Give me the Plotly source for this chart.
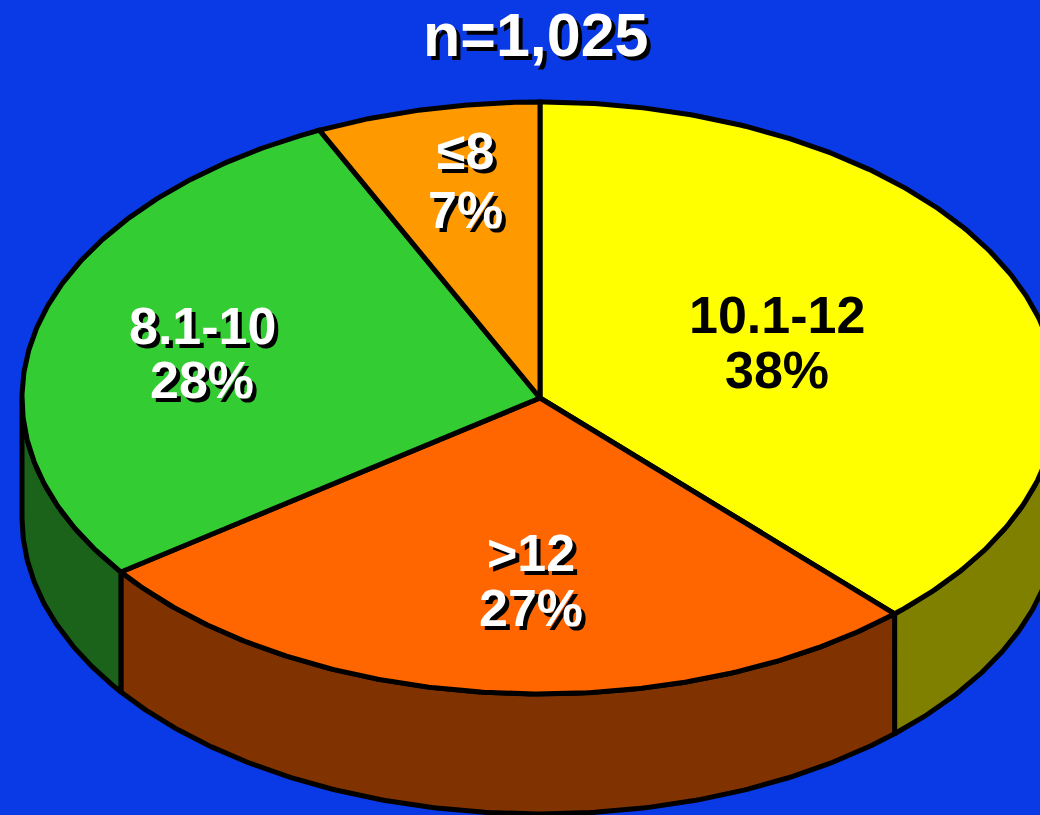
import numpy as np
import plotly.graph_objects as go

# ---- data ----
labels = ["10.1-12", ">12", "8.1-10", "\u22648"]
values = [38, 27, 28, 7]
title_text = "n=1,025"

# ---- style ----
top_colors = ["#FFFF00", "#FF6600", "#33CC33", "#FF9900"]
side_colors = ["#808000", "#803300", "#1B631B", "#804C00"]
text_colors = ["black", "white", "white", "white"]
use_shadow = [False, True, True, True]
label_xy = [(777, 315, 370), (531, 553, 608), (202, 326, 380), (465, 151, 210)]
BG = "#0A3AE6"
CX, CY, RX, RY, DEPTH = 540, 398, 518, 296, 120
W, H = 1040, 815
FONT = "Arial, Liberation Sans, sans-serif"
LW = 5

def ell(t):
    return CX + RX * np.sin(t), CY - RY * np.cos(t)

fig = go.Figure()
total = float(sum(values))
bounds = np.concatenate([[0], np.cumsum(values)]) / total * 2 * np.pi

# side faces (front half only: angles between pi/2 and 3pi/2)
for i in range(len(values)):
    a0, a1 = max(bounds[i], np.pi / 2), min(bounds[i + 1], 3 * np.pi / 2)
    if a1 <= a0:
        continue
    t = np.linspace(a0, a1, 200)
    x, y = ell(t)
    xs = np.concatenate([x, x[::-1], x[:1]])
    ys = np.concatenate([y, (y + DEPTH)[::-1], y[:1]])
    fig.add_trace(go.Scatter(x=xs, y=ys, mode="lines", fill="toself",
                             fillcolor=side_colors[i],
                             line=dict(color="black", width=LW),
                             hoverinfo="skip", showlegend=False))

# top faces
for i in range(len(values)):
    t = np.linspace(bounds[i], bounds[i + 1], 300)
    x, y = ell(t)
    xs = np.concatenate([[CX], x, [CX]])
    ys = np.concatenate([[CY], y, [CY]])
    fig.add_trace(go.Scatter(x=xs, y=ys, mode="lines", fill="toself",
                             fillcolor=top_colors[i],
                             line=dict(color="black", width=LW),
                             hoverinfo="skip", showlegend=False))

def add_text(txt, x, y, size, color, shadow):
    if shadow:
        fig.add_annotation(x=x, y=y, text=txt, showarrow=False, xanchor="center",
                           yanchor="middle", xshift=4, yshift=-4,
                           font=dict(family=FONT, size=size, color="black", weight="bold"))
    fig.add_annotation(x=x, y=y, text=txt, showarrow=False, xanchor="center",
                       yanchor="middle",
                       font=dict(family=FONT, size=size, color=color, weight="bold"))

for i, lab in enumerate(labels):
    lx, ly1, ly2 = label_xy[i]
    add_text(lab, lx, ly1, 52, text_colors[i], use_shadow[i])
    add_text(f"{values[i]}%", lx, ly2, 52, text_colors[i], use_shadow[i])

add_text(title_text, 536, 35, 61, "white", True)

fig.update_layout(
    width=W, height=H, margin=dict(l=0, r=0, t=0, b=0),
    paper_bgcolor=BG, plot_bgcolor=BG,
    xaxis=dict(range=[0, W], visible=False, fixedrange=True),
    yaxis=dict(range=[H, 0], visible=False, fixedrange=True),
)
fig.write_html("out.html", config={"displayModeBar": False},
               post_script="document.body.style.margin='0';document.body.style.overflow='hidden';")
